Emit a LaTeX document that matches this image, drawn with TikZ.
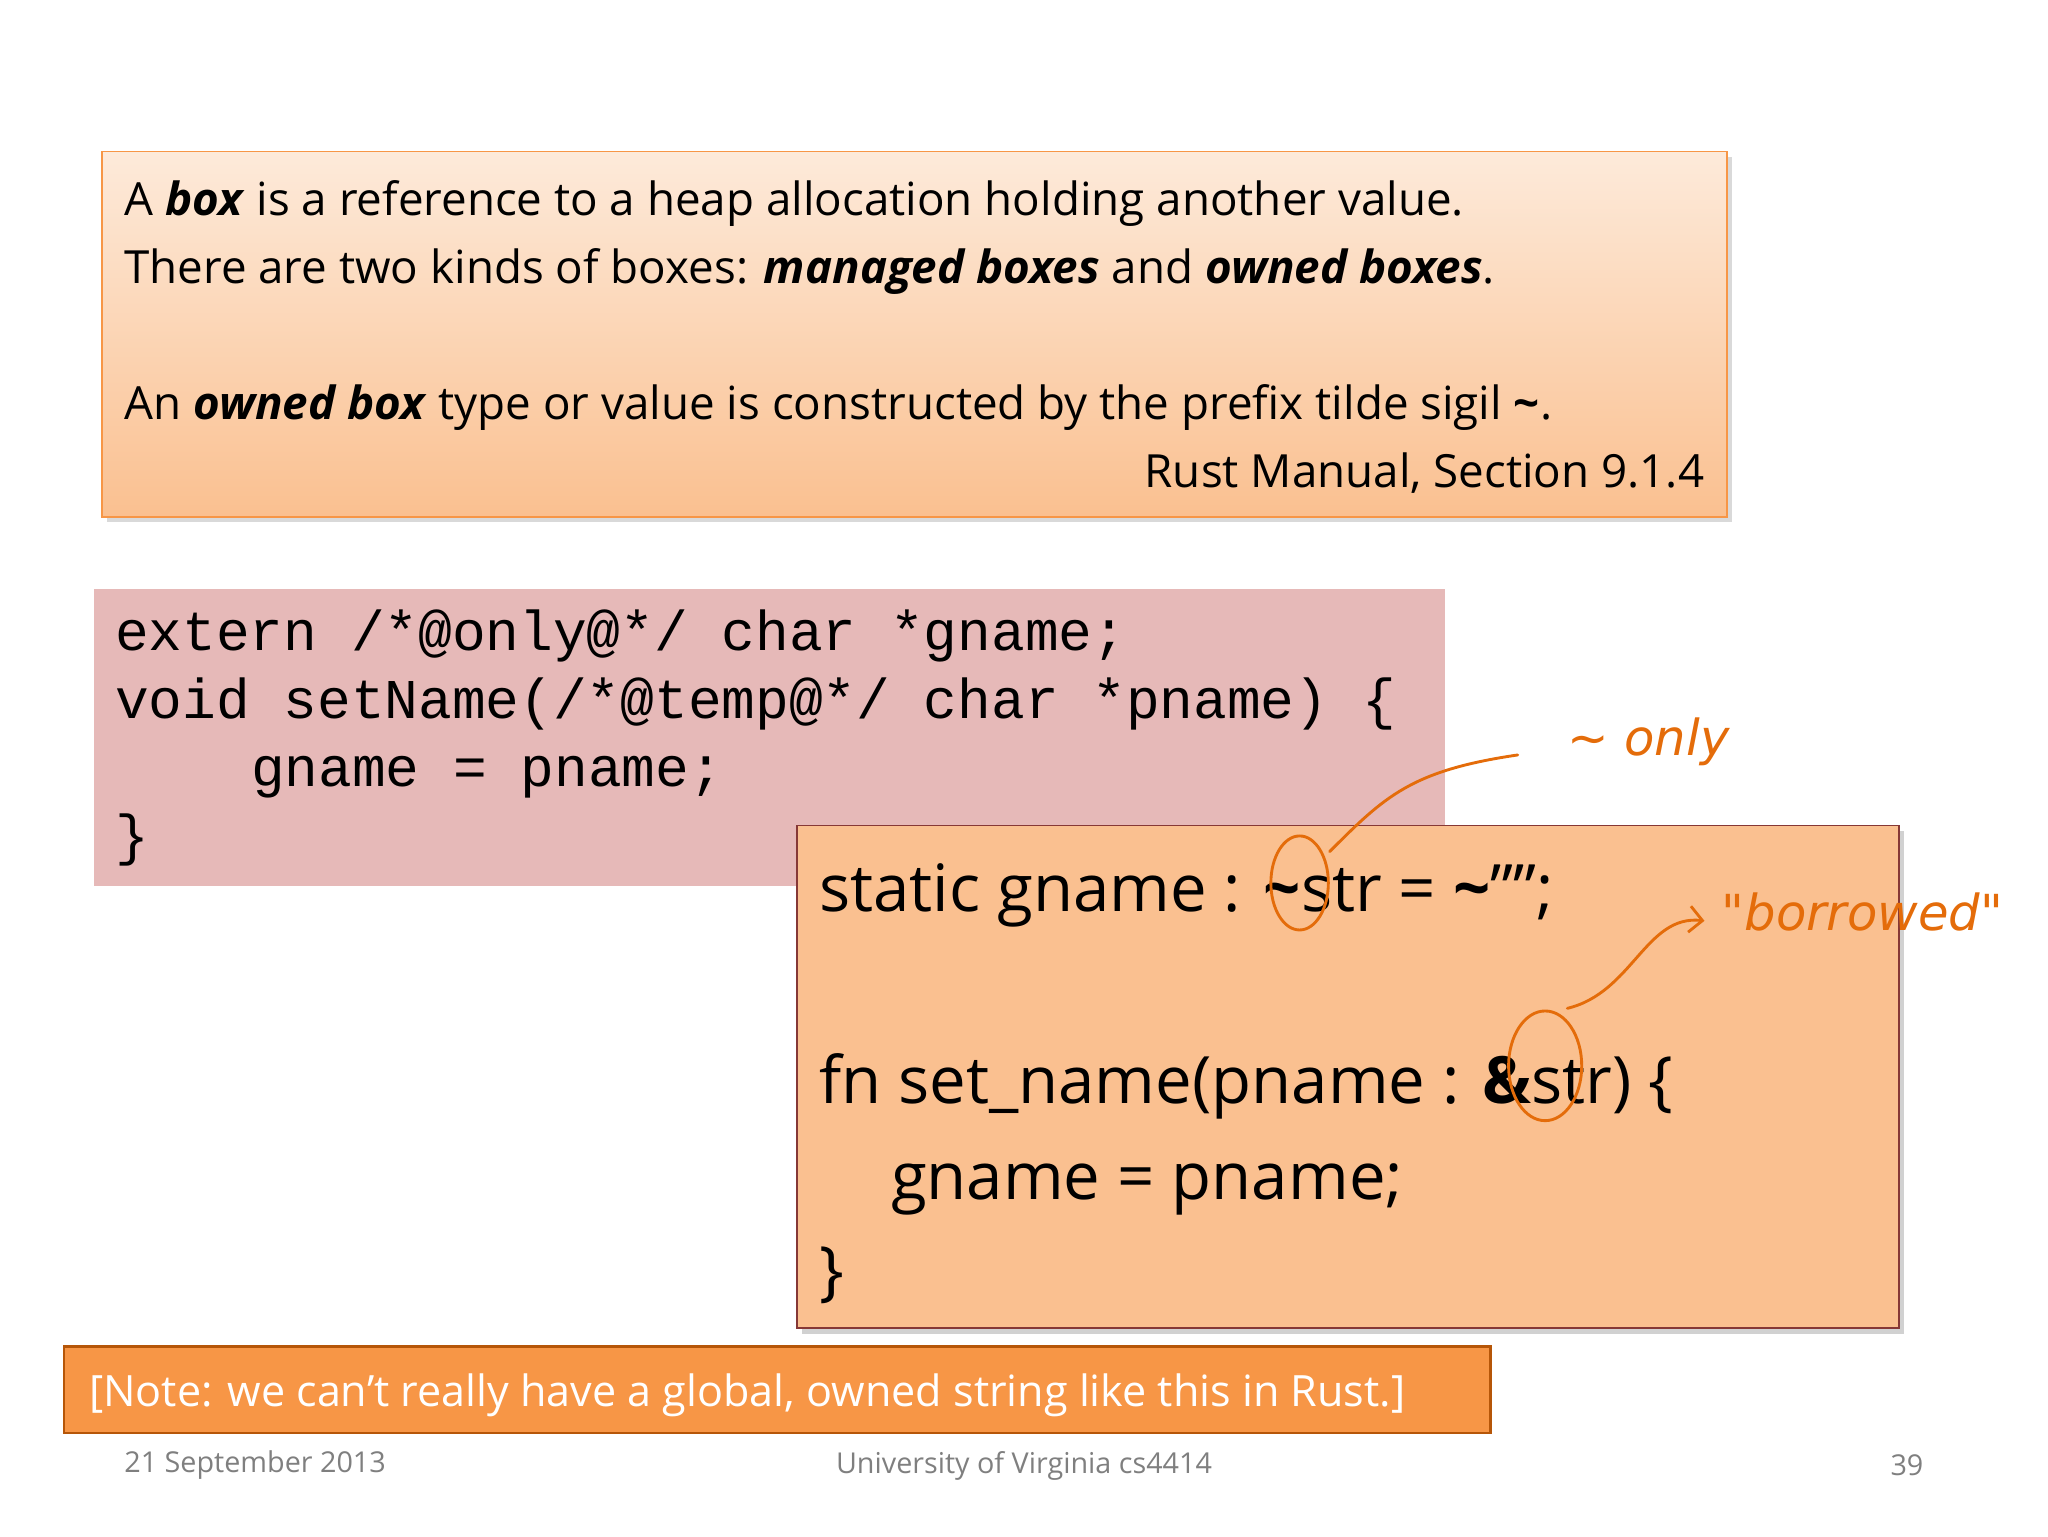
\documentclass[tikz,border=0pt]{standalone}
\usepackage{fontspec}
\setmainfont{Open Sans}
\newfontfamily\codefont{Liberation Mono}
\newfontfamily\handfont{DejaVu Sans}
\usetikzlibrary{shadows,arrows.meta}
\definecolor{peachA}{HTML}{FDEADA}
\definecolor{peachB}{HTML}{FAC090}
\definecolor{orangeB}{HTML}{F79646}
\definecolor{pinkF}{HTML}{E6B9B8}
\definecolor{darkO}{HTML}{C0504D}
\definecolor{inkO}{HTML}{E46C0A}
\definecolor{footG}{HTML}{7F7F7F}
\tikzset{
  txt/.style={anchor=base west,inner sep=0pt,font=\fontsize{35}{42}\selectfont},
  code/.style={anchor=base west,inner sep=0pt,font=\codefont\fontsize{43}{50}\selectfont},
  rust/.style={anchor=base west,inner sep=0pt,font=\fontsize{50}{60}\selectfont},
  foot/.style={inner sep=0pt,text=footG,font=\fontsize{22}{26}\selectfont},
  ink/.style={draw=inkO,line width=2.2pt,line cap=round},
  hand/.style={text=inkO,inner sep=0pt,font=\handfont\itshape\fontsize{38}{42}\selectfont}
}
\begin{document}
\begin{tikzpicture}[x=1pt,y=-1pt]
\useasboundingbox (0,0) rectangle (1568,1176);
% top quote box
\fill[gray!50,opacity=0.6] (82,120) rectangle (1326,400);
\shade[top color=peachA,bottom color=peachB,draw=orangeB,line width=1.5pt] (78,116) rectangle (1322,396);
\node[txt] (q1) at (95,165) {A \textbf{\textit{box}} is a reference to a heap allocation holding another value.};
\node[txt] (q2) at (95,217) {There are two kinds of boxes: \textbf{\textit{managed boxes}} and \textbf{\textit{owned boxes}}.};
\node[txt] (q3) at (95,321) {An \textbf{\textit{owned box}} type or value is constructed by the prefix tilde sigil \textbf{\char`\~}.};
\node[txt,anchor=base east] (q4) at (1305,373) {Rust Manual, Section 9.1.4};
% C code box
\fill[pinkF] (72,451) rectangle (1106,678);
\node[code] (c1) at (88,498) {extern /*@only@*/ char *gname;};
\node[code] (c2) at (88,550) {void setName(/*@temp@*/ char *pname) \{};
\node[code] (c3) at (192,602) {gname = pname;};
\node[code] (c4) at (88,654) {\}};
% Rust box
\fill[gray!60,opacity=0.6] (614,636) rectangle (1458,1021);
\fill[peachB,draw=darkO!70!black,line width=1.5pt] (610,632) rectangle (1454,1017);
\node[rust] (r1) at (627,698) {static gname : \textbf{\char`\~}str = \textbf{\char`\~}\symbol{34}\symbol{34};};
\node[rust] (r2) at (627,845) {fn set\_name(pname : \textbf{\&}str) \{};
\node[rust] (r3) at (682,918) {gname = pname;};
\node[rust] (r4) at (627,990) {\}};
% note box
\fill[orangeB,draw=inkO!80!black,line width=2pt] (49,1031) rectangle (1141,1097);
\node[txt,text=white,font=\fontsize{33}{38}\selectfont] (note) at (68,1077) {[Note: we can’t really have a global, owned string like this in Rust.]};
% footer
\node[foot,anchor=west] (f1) at (95,1122) {21 September 2013};
\node[foot] (f2) at (784,1122) {University of Virginia cs4414};
\node[foot] (f3) at (1460,1122) {39};
% handwritten annotations
\draw[ink] (995,676) ellipse (22 and 36);
\draw[ink] (1183,816) ellipse (28 and 42);
\coordinate (tc) at (1018,652);
\coordinate (te) at (1162,578);
\draw[ink] (tc) .. controls (1060,610) and (1080,590) .. (te);
\node[hand] (only) at (1262,568) {\char`\~\ only};
\coordinate (ac) at (1200,772);
\coordinate (ae) at (1305,705);
\draw[ink,-{Straight Barb[length=10pt]}] (ac) .. controls (1250,760) and (1260,700) .. (ae);
\node[hand,anchor=west] (borr) at (1318,698) {"borrowed"};
\end{tikzpicture}
\end{document}
